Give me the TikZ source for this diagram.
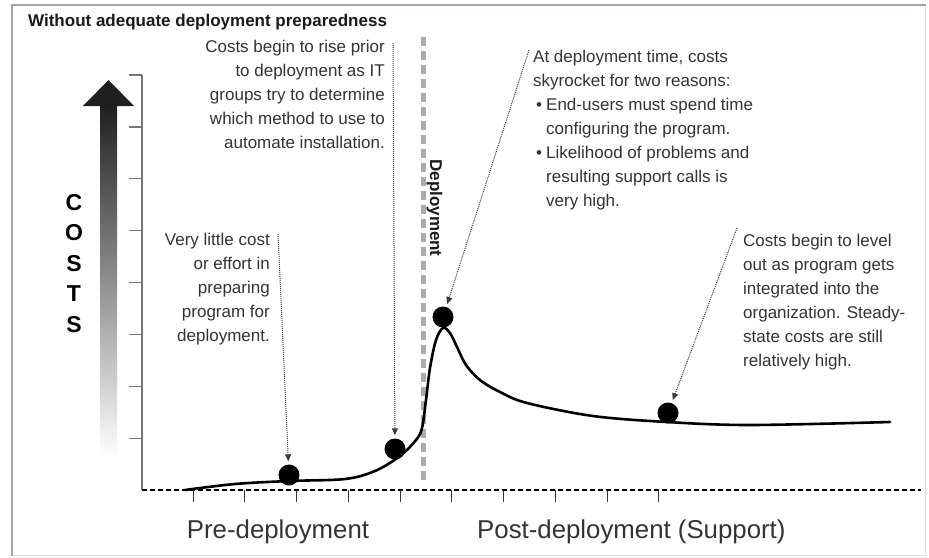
\documentclass[tikz,border=0pt]{standalone}
\usepackage{fontspec}
\setmainfont{Liberation Sans}
\usetikzlibrary{arrows.meta}
\definecolor{txt}{HTML}{333333}
\definecolor{titlec}{HTML}{1A1A1A}
\definecolor{framec}{HTML}{A8A19C}
\definecolor{framelt}{HTML}{DADADA}
\definecolor{axisc}{HTML}{777777}
\definecolor{depc}{HTML}{ABABAB}
\definecolor{ptrc}{HTML}{3A3A3A}
\tikzset{
  body/.style={text=txt, inner sep=0pt, font=\fontsize{17}{24}\selectfont},
  bigtxt/.style={text=txt, inner sep=0pt, font=\fontsize{25.8}{30}\selectfont},
  dot/.style={circle, fill=black, minimum size=21pt, inner sep=0pt},
  ptr/.style={ptrc, line width=1pt, densely dotted, -{Triangle[length=7pt,width=6pt]}, shorten >=3pt},
  curveline/.style={black, line width=2.6pt, line cap=round},
  ytick/.style={axisc, line width=1.2pt},
  xtick/.style={black!80, line width=1pt}
}
\begin{document}
\begin{tikzpicture}[x=1pt,y=-1pt]
\useasboundingbox (0,0) rectangle (929,557);
% frame
\draw[framelt, line width=1pt] (925,5) -- (925,555) -- (12,555);
\draw[framec, line width=2pt] (12,556) -- (12,5) -- (926,5);
% title
\node[anchor=base west, inner sep=0pt, text=titlec, font=\bfseries\fontsize{17}{20}\selectfont] (title) at (28,26) {Without adequate deployment preparedness};
% gradient arrow
\shade[top color=black!88, bottom color=white] (100,104) rectangle (117,458);
\fill[black!88] (83,106) -- (108.5,80) -- (134,106) -- cycle;
% COSTS (base anchor = last line)
\node[anchor=base, inner sep=0pt, text=black, align=center, font=\bfseries\fontsize{23}{30.5}\selectfont] (costs) at (74,332) {C\\O\\S\\T\\S};
% y axis
\draw[ytick] (142,75) -- (142,490);
\foreach \k in {0,...,7} { \draw[ytick] (129,75+51.9*\k) -- (142,75+51.9*\k); }
% x axis
\draw[black, line width=2.2pt, dash pattern=on 5pt off 3pt] (142,490) -- (921,490);
\foreach \k in {0,...,9} { \draw[xtick] (193+51.75*\k,490) -- (193+51.75*\k,502); }
% deployment line
\draw[depc, line width=5pt, dash pattern=on 9pt off 5pt] (423,37) -- (423,484);
\node[rotate=-90, anchor=base, inner sep=0pt, text=black!90, font=\bfseries\fontsize{17}{20}\selectfont] (dep) at (430,208) {Deployment};
% curve
\draw[curveline] plot[smooth, tension=0.55] coordinates {
 (185,490) (235,484) (289,481) (345,479) (375,471) (400,456) (416,440) (422,428)
 (426,400) (430,368) (436,340) (443,328) (450,333) (457,347) (466,365) (480,380)
 (500,392) (527,403) (593,416) (667,422) (750,425) (890,422)};
% dots
\node[dot] (d1) at (289,475) {};
\node[dot] (d2) at (395,449) {};
\node[dot] (d3) at (443,317) {};
\node[dot] (d4) at (668,413) {};
% texts (base anchor = last line baseline)
\node[body, align=right, anchor=base east] (t1) at (270,341) {Very little cost\\or effort in\\preparing\\program for\\deployment.};
\node[body, align=right, anchor=base east] (t2) at (385,148) {Costs begin to rise prior\\to deployment as IT\\groups try to determine\\which method to use to\\automate installation.};
\node[body, align=left, anchor=base west] (t3) at (533,206) {At deployment time, costs\\skyrocket for two reasons:\\\hspace*{3pt}\makebox[10pt][l]{•}End-users must spend time\\\hspace*{13pt}configuring the program.\\\hspace*{3pt}\makebox[10pt][l]{•}Likelihood of problems and\\\hspace*{13pt}resulting support calls is\\\hspace*{13pt}very high.};
\node[body, align=left, anchor=base west] (t4) at (743,366) {Costs begin to level\\out as program gets\\integrated into the\\organization. Steady-\\state costs are still\\relatively high.};
% pointers
\coordinate (a1) at (278,234);
\coordinate (a2) at (393,43);
\coordinate (a3) at (529,50);
\coordinate (a4) at (737,228);
\draw[ptr] (a1) -- (d1);
\draw[ptr] (a2) -- (d2);
\draw[ptr] (a3) -- (d3);
\draw[ptr] (a4) -- (d4);
% bottom labels
\node[bigtxt, anchor=base] (pre) at (278,538) {Pre-deployment};
\node[bigtxt, anchor=base west] (post) at (477,538) {Post-deployment (Support)};
\end{tikzpicture}
\end{document}
